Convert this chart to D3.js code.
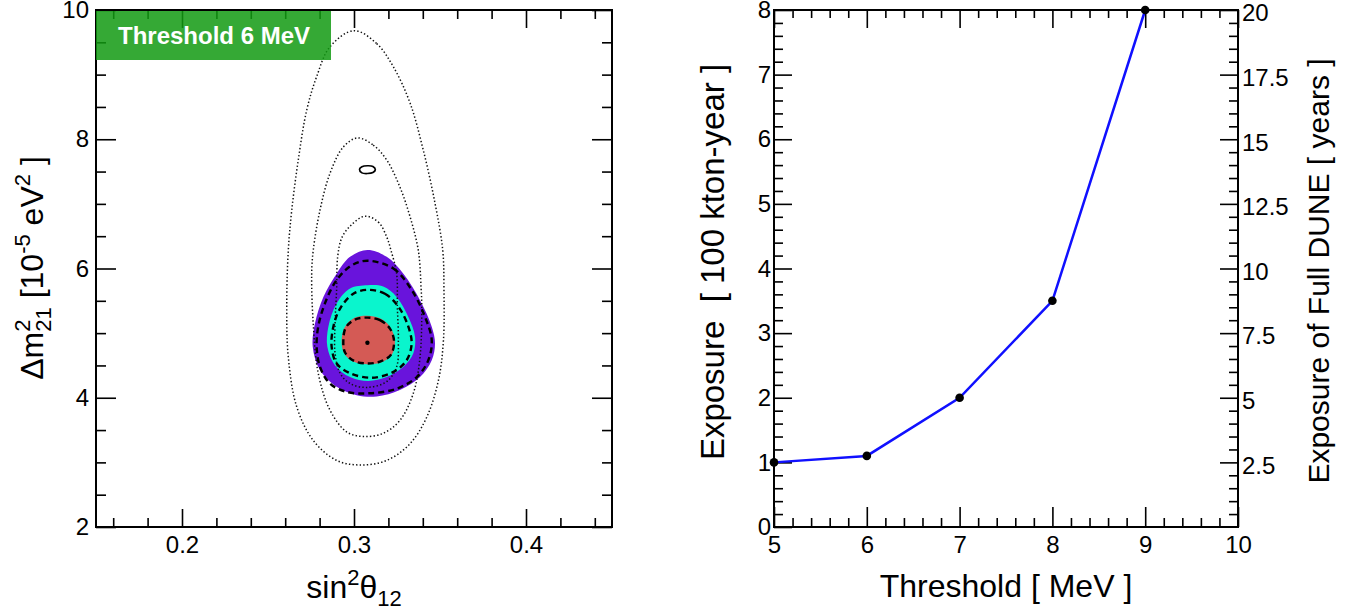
<!DOCTYPE html>
<html><head><meta charset="utf-8">
<script src="https://cdn.jsdelivr.net/npm/d3@7"></script>
<style>
body{margin:0;background:#fff;}
svg{display:block;}
text{font-family:"Liberation Sans",Arial,Helvetica,sans-serif;white-space:pre;}
</style>
</head><body>
<svg id="c" width="1362" height="614"></svg>
<script>
// ---------------- DATA ----------------
// Left panel: sin^2(theta12) vs dm^2_21 contours (data coordinates)
const sinDomain = [0.15, 0.45];
const dmDomain = [2, 10];
const sinMajorTicks = [0.2, 0.3, 0.4];
const dmMajorTicks = [2, 4, 6, 8, 10];
const panelLabel = "Threshold 6 MeV";
const bestFit = [0.3078, 4.85];

const fill3 = [[0.3078,6.285],[0.3190,6.18],[0.3287,5.92],[0.3384,5.51],[0.3452,5.10],[0.3471,4.84],[0.3452,4.58],[0.3384,4.32],[0.3267,4.12],[0.3132,4.02],[0.3016,4.04],[0.2899,4.17],[0.2802,4.43],[0.2760,4.79],[0.2773,5.15],[0.2822,5.56],[0.2899,5.92],[0.2977,6.18]];
const fill2 = [[0.3078,5.74],[0.3170,5.72],[0.3248,5.56],[0.3316,5.25],[0.3355,4.94],[0.3345,4.69],[0.3287,4.48],[0.3190,4.32],[0.3083,4.26],[0.2977,4.32],[0.2890,4.50],[0.2845,4.79],[0.2851,5.10],[0.2899,5.46],[0.2977,5.69]];
const fill1 = [[0.3078,5.27],[0.3151,5.23],[0.3209,5.10],[0.3238,4.87],[0.3219,4.66],[0.3161,4.55],[0.3078,4.52],[0.2996,4.56],[0.2942,4.69],[0.2928,4.89],[0.2948,5.10],[0.3006,5.24]];

const dashed3 = [[0.3078,6.12],[0.3229,6.00],[0.3335,5.67],[0.3413,5.25],[0.3452,4.89],[0.3432,4.58],[0.3365,4.32],[0.3248,4.14],[0.3093,4.07],[0.2958,4.09],[0.2860,4.22],[0.2802,4.48],[0.2783,4.79],[0.2792,5.10],[0.2831,5.46],[0.2899,5.82],[0.2987,6.05]];
const dashed2 = [[0.3083,5.67],[0.3180,5.61],[0.3258,5.41],[0.3316,5.10],[0.3335,4.84],[0.3306,4.58],[0.3229,4.40],[0.3103,4.31],[0.2977,4.38],[0.2899,4.53],[0.2870,4.79],[0.2880,5.10],[0.2919,5.38],[0.2996,5.61]];
const dashed1 = [[0.3078,5.24],[0.3151,5.20],[0.3209,5.07],[0.3233,4.87],[0.3213,4.66],[0.3151,4.56],[0.3078,4.53],[0.3000,4.57],[0.2948,4.70],[0.2938,4.89],[0.2953,5.09],[0.3006,5.21]];

const dotted3 = [[0.3000,9.68],[0.3132,9.48],[0.3229,9.12],[0.3326,8.56],[0.3403,7.83],[0.3471,7.01],[0.3516,6.28],[0.3523,5.67],[0.3520,4.89],[0.3491,4.27],[0.3423,3.70],[0.3326,3.29],[0.3190,3.03],[0.3035,2.96],[0.2899,3.03],[0.2763,3.34],[0.2667,3.86],[0.2618,4.63],[0.2609,5.41],[0.2618,6.28],[0.2638,6.90],[0.2676,7.68],[0.2725,8.45],[0.2783,8.97],[0.2860,9.43]];
const dotted2 = [[0.3019,8.02],[0.3112,7.91],[0.3190,7.68],[0.3267,7.26],[0.3326,6.80],[0.3374,6.28],[0.3390,5.70],[0.3394,5.41],[0.3384,4.63],[0.3345,4.07],[0.3267,3.65],[0.3170,3.45],[0.3054,3.40],[0.2958,3.47],[0.2860,3.81],[0.2792,4.38],[0.2763,5.15],[0.2754,5.92],[0.2763,6.28],[0.2802,6.90],[0.2860,7.47],[0.2938,7.88]];
const dotted2Island = [[0.3032,7.535],[0.3046,7.575],[0.3078,7.59],[0.3110,7.58],[0.3124,7.53],[0.3110,7.485],[0.3078,7.47],[0.3046,7.48]];
const dotted1 = [[0.3064,6.81],[0.3141,6.72],[0.3190,6.49],[0.3215,6.28],[0.3248,5.92],[0.3252,5.41],[0.3258,4.89],[0.3248,4.48],[0.3190,4.25],[0.3074,4.16],[0.2977,4.22],[0.2919,4.38],[0.2890,4.69],[0.2890,5.15],[0.2899,5.67],[0.2905,6.18],[0.2930,6.48],[0.2987,6.68]];

// Right panel: exposure vs threshold
const thresholds = [5, 6, 7, 8, 9];
const exposure = [1.0, 1.1, 2.0, 3.5, 8.0];
const thrDomain = [5, 10];
const expDomain = [0, 8];
const yearsDomain = [0, 20];
const thrTicks = [5, 6, 7, 8, 9, 10];
const expTicks = [0, 1, 2, 3, 4, 5, 6, 7, 8];
const yearsTicks = [2.5, 5, 7.5, 10, 12.5, 15, 17.5, 20];

// ---------------- STYLE ----------------
const C_PURPLE = "#6914dc", C_CYAN = "#0af5cd", C_RED = "#d45a55", C_BLUE = "#1010ff";
const TICK_FS = 24;

const svg = d3.select("#c");

function axis(g, gen, tr, vals, size, fmt, pad) {
  const a = g.append("g").attr("transform", tr)
    .call(gen.tickValues(vals).tickSize(size).tickPadding(pad || 0).tickFormat(fmt || (() => "")));
  a.select(".domain").remove();
  a.selectAll("line").attr("stroke", "#000").attr("stroke-width", 1.6);
  a.selectAll("text").attr("font-size", TICK_FS).attr("fill", "#000")
    .attr("font-family", '"Liberation Sans",Arial,Helvetica,sans-serif');
  return a;
}
function minorTicks(domain, step, majors) {
  return d3.range(Math.ceil(domain[0] / step - 1e-9), Math.floor(domain[1] / step + 1e-9) + 1)
    .map(i => +(i * step).toFixed(6))
    .filter(v => !majors.some(m => Math.abs(m - v) < 1e-9) && v > domain[0] + 1e-9 && v < domain[1] - 1e-9);
}

// ================= LEFT PANEL =================
const xL = d3.scaleLinear().domain(sinDomain).range([96, 612]);
const yL = d3.scaleLinear().domain(dmDomain).range([527, 10]);
const gL = svg.append("g");
svg.append("clipPath").attr("id", "clipL").append("rect")
  .attr("x", xL(sinDomain[0])).attr("y", yL(dmDomain[1]))
  .attr("width", xL(sinDomain[1]) - xL(sinDomain[0])).attr("height", yL(dmDomain[0]) - yL(dmDomain[1]));
const cont = gL.append("g").attr("clip-path", "url(#clipL)");
const cline = d3.line().x(d => xL(d[0])).y(d => yL(d[1])).curve(d3.curveCatmullRomClosed.alpha(0.5));

cont.append("path").datum(fill3).attr("d", cline).attr("fill", C_PURPLE);
cont.append("path").datum(fill2).attr("d", cline).attr("fill", C_CYAN);
cont.append("path").datum(fill1).attr("d", cline).attr("fill", C_RED);

[dotted3, dotted2, dotted1].forEach(c => {
  cont.append("path").datum(c).attr("d", cline).attr("fill", "none")
    .attr("stroke", "#111").attr("stroke-width", 1.5).attr("stroke-dasharray", "1.4,2.2");
});
cont.append("path").datum(dotted2Island).attr("d", cline).attr("fill", "none")
  .attr("stroke", "#000").attr("stroke-width", 1.7);
[dashed3, dashed2, dashed1].forEach(c => {
  cont.append("path").datum(c).attr("d", cline).attr("fill", "none")
    .attr("stroke", "#000").attr("stroke-width", 2.4).attr("stroke-dasharray", "6,4");
});
cont.append("circle").attr("cx", xL(bestFit[0])).attr("cy", yL(bestFit[1])).attr("r", 2.2).attr("fill", "#000");

// ticks
const sinMinor = minorTicks(sinDomain, 0.02, sinMajorTicks);
const dmMinor = minorTicks(dmDomain, 0.5, dmMajorTicks);
axis(gL, d3.axisBottom(xL), `translate(0,${yL(dmDomain[0])})`, sinMajorTicks, -18, d3.format(".1f"), 9);
axis(gL, d3.axisBottom(xL), `translate(0,${yL(dmDomain[0])})`, sinMinor, -9);
axis(gL, d3.axisTop(xL), `translate(0,${yL(dmDomain[1])})`, sinMajorTicks, -18);
axis(gL, d3.axisTop(xL), `translate(0,${yL(dmDomain[1])})`, sinMinor, -9);
axis(gL, d3.axisLeft(yL), `translate(${xL(sinDomain[0])},0)`, dmMajorTicks, -20, d3.format("d"), 7);
axis(gL, d3.axisLeft(yL), `translate(${xL(sinDomain[0])},0)`, dmMinor, -10);
axis(gL, d3.axisRight(yL), `translate(${xL(sinDomain[1])},0)`, dmMajorTicks, -20);
axis(gL, d3.axisRight(yL), `translate(${xL(sinDomain[1])},0)`, dmMinor, -10);
gL.append("rect").attr("x", xL(sinDomain[0])).attr("y", yL(dmDomain[1]))
  .attr("width", xL(sinDomain[1]) - xL(sinDomain[0])).attr("height", yL(dmDomain[0]) - yL(dmDomain[1]))
  .attr("fill", "none").attr("stroke", "#000").attr("stroke-width", 2);

// label box
gL.append("rect").attr("x", 96).attr("y", 11).attr("width", 235).attr("height", 49)
  .attr("fill", "rgb(18,154,18)").attr("fill-opacity", 0.85);
gL.append("text").attr("x", 214).attr("y", 44).attr("text-anchor", "middle")
  .attr("font-size", 24).attr("font-weight", "bold").attr("fill", "#fff").text(panelLabel);

// axis titles
{
  const t = gL.append("text").attr("text-anchor", "middle").attr("font-size", 32)
    .attr("x", 354).attr("y", 598);
  t.append("tspan").text("sin");
  t.append("tspan").attr("font-size", 22).attr("dy", -13).text("2");
  t.append("tspan").attr("dy", 13).text("θ");
  t.append("tspan").attr("font-size", 22).attr("dy", 8).text("12");
}
{
  const t = gL.append("text").attr("text-anchor", "middle").attr("font-size", 32)
    .attr("transform", "translate(43,268) rotate(-90)");
  t.append("tspan").text("Δm");
  t.append("tspan").attr("font-size", 22).attr("dy", -13).text("2");
  t.append("tspan").attr("font-size", 22).attr("dx", -12.2).attr("dy", 21).text("21");
  t.append("tspan").attr("dy", -8).text(" [10");
  t.append("tspan").attr("font-size", 22).attr("dy", -13).text("-5");
  t.append("tspan").attr("dy", 13).text(" eV");
  t.append("tspan").attr("font-size", 22).attr("dy", -13).text("2");
  t.append("tspan").attr("dy", 13).text(" ]");
}

// ================= RIGHT PANEL =================
const xR = d3.scaleLinear().domain(thrDomain).range([774, 1238]);
const yR = d3.scaleLinear().domain(expDomain).range([527, 10]);
const yR2 = d3.scaleLinear().domain(yearsDomain).range([527, 10]);
const gR = svg.append("g");

const thrMinor = minorTicks(thrDomain, 0.2, thrTicks);
const expMinor = minorTicks(expDomain, 0.2, expTicks);
axis(gR, d3.axisBottom(xR), `translate(0,${yR(expDomain[0])})`, thrTicks, -20, d3.format("d"), 9);
axis(gR, d3.axisBottom(xR), `translate(0,${yR(expDomain[0])})`, thrMinor, -9);
axis(gR, d3.axisTop(xR), `translate(0,${yR(expDomain[1])})`, thrTicks, -18);
axis(gR, d3.axisTop(xR), `translate(0,${yR(expDomain[1])})`, thrMinor, -8);
axis(gR, d3.axisLeft(yR), `translate(${xR(thrDomain[0])},0)`, expTicks, -18, d3.format("d"), 3);
axis(gR, d3.axisLeft(yR), `translate(${xR(thrDomain[0])},0)`, expMinor, -9);
const yearsMinor = minorTicks(yearsDomain, 0.5, yearsTicks.concat([0]));
const rAx = axis(gR, d3.axisRight(yR2), `translate(${xR(thrDomain[1])},0)`, yearsTicks, -18, d3.format("~g"), 4);
rAx.selectAll("text").attr("dy", "0.45em");
axis(gR, d3.axisRight(yR2), `translate(${xR(thrDomain[1])},0)`, yearsMinor, -9);
gR.append("rect").attr("x", xR(thrDomain[0])).attr("y", yR(expDomain[1]))
  .attr("width", xR(thrDomain[1]) - xR(thrDomain[0])).attr("height", yR(expDomain[0]) - yR(expDomain[1]))
  .attr("fill", "none").attr("stroke", "#000").attr("stroke-width", 2);

const pts = thresholds.map((t, i) => [t, exposure[i]]);
gR.append("path").datum(pts)
  .attr("d", d3.line().x(d => xR(d[0])).y(d => yR(d[1])))
  .attr("fill", "none").attr("stroke", C_BLUE).attr("stroke-width", 2.5);
gR.selectAll("circle.pt").data(pts).join("circle").attr("class", "pt")
  .attr("cx", d => xR(d[0])).attr("cy", d => yR(d[1])).attr("r", 4.3).attr("fill", "#000");

gR.append("text").attr("text-anchor", "middle").attr("font-size", 32)
  .attr("x", 1006).attr("y", 597).text("Threshold [ MeV ]");
gR.append("text").attr("text-anchor", "middle").attr("font-size", 33)
  .attr("transform", "translate(724,262) rotate(-90)").text("Exposure  [ 100 kton-year ]");
gR.append("text").attr("text-anchor", "middle").attr("font-size", 30)
  .attr("transform", "translate(1329,271) rotate(-90)").text("Exposure of Full DUNE [ years ]");
</script>
</body></html>
